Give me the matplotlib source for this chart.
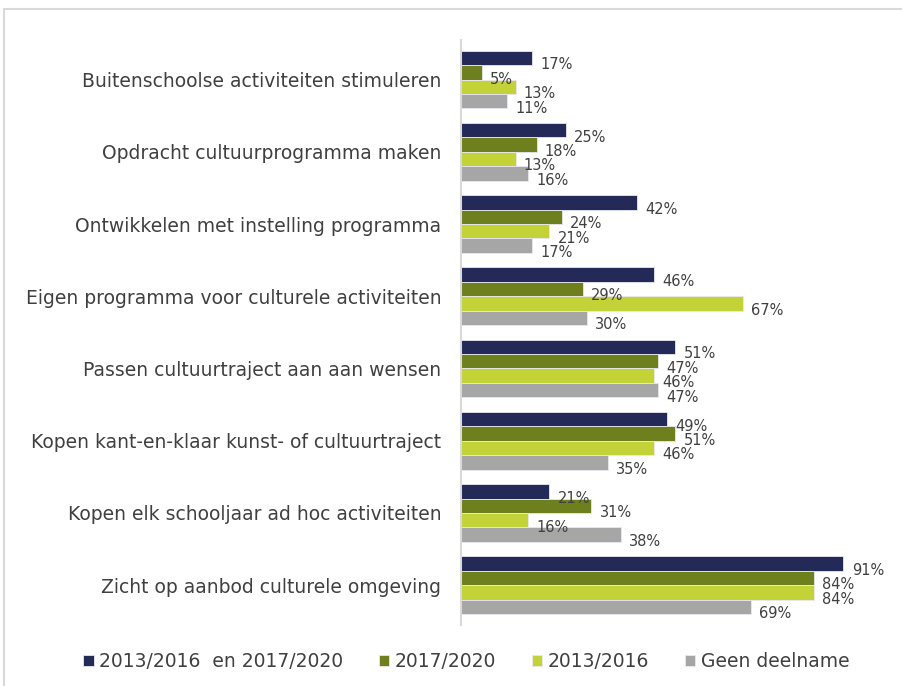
import numpy as np
import matplotlib.pyplot as plt
from matplotlib.patches import Rectangle

# activiteiten (van boven naar beneden)
categories = [
    'Buitenschoolse activiteiten stimuleren',
    'Opdracht cultuurprogramma maken',
    'Ontwikkelen met instelling programma',
    'Eigen programma voor culturele activiteiten',
    'Passen cultuurtraject aan aan wensen',
    'Kopen kant-en-klaar kunst- of cultuurtraject',
    'Kopen elk schooljaar ad hoc activiteiten',
    'Zicht op aanbod culturele omgeving',
]

series_names = ['2013/2016  en 2017/2020', '2017/2020', '2013/2016', 'Geen deelname']
beide = [17, 25, 42, 46, 51, 49, 21, 91]
periode_2017 = [5, 18, 24, 29, 47, 51, 31, 84]
periode_2013 = [13, 13, 21, 67, 46, 46, 16, 84]
geen = [11, 16, 17, 30, 47, 35, 38, 69]

colors = ['#232A57', '#6E7F1D', '#C3D236', '#A6A6A6']
text_color = '#404040'

fig = plt.figure(figsize=(9.02, 6.86), dpi=100)
ax = fig.add_axes([0.511, 0.089, 0.466, 0.853])

y = np.arange(len(categories))
h = 0.2
for i, (vals, col, name) in enumerate(zip([beide, periode_2017, periode_2013, geen], colors, series_names)):
    pos = y - 0.3 + i * h
    bars = ax.barh(pos, vals, height=h, color=col, edgecolor='#E8E8F0', linewidth=0.6, label=name)
    for b, v in zip(bars, vals):
        ax.annotate(f'{v}%', (v, b.get_y() + b.get_height() / 2), xytext=(6, -5),
                    textcoords='offset points', ha='left', va='center',
                    fontsize=10.5, color=text_color)

ax.set_xlim(0, 100)
ax.set_ylim(len(categories) - 0.45, -0.55)
ax.set_yticks(y)
ax.set_yticklabels(categories, fontsize=13.5, color=text_color)
ax.tick_params(axis='y', length=0, pad=14)
ax.set_xticks([])
for s in ['top', 'right', 'bottom']:
    ax.spines[s].set_visible(False)
ax.spines['left'].set_color('#D9D9D9')
ax.spines['left'].set_linewidth(1.5)

handles, labels = ax.get_legend_handles_labels()
fig.legend(handles, labels, loc='center', bbox_to_anchor=(0.517, 0.036), ncol=4,
           frameon=False, fontsize=13.5, handlelength=0.55, handleheight=0.55,
           handletextpad=0.3, columnspacing=1.9, labelcolor=text_color)

# kader rond de grafiek
fig.patches.append(Rectangle((0.004, -0.1), 1.2, 1.087, transform=fig.transFigure,
                             fill=False, edgecolor='#D9D9D9', linewidth=1.5))

fig.savefig('out.png', dpi=100)
